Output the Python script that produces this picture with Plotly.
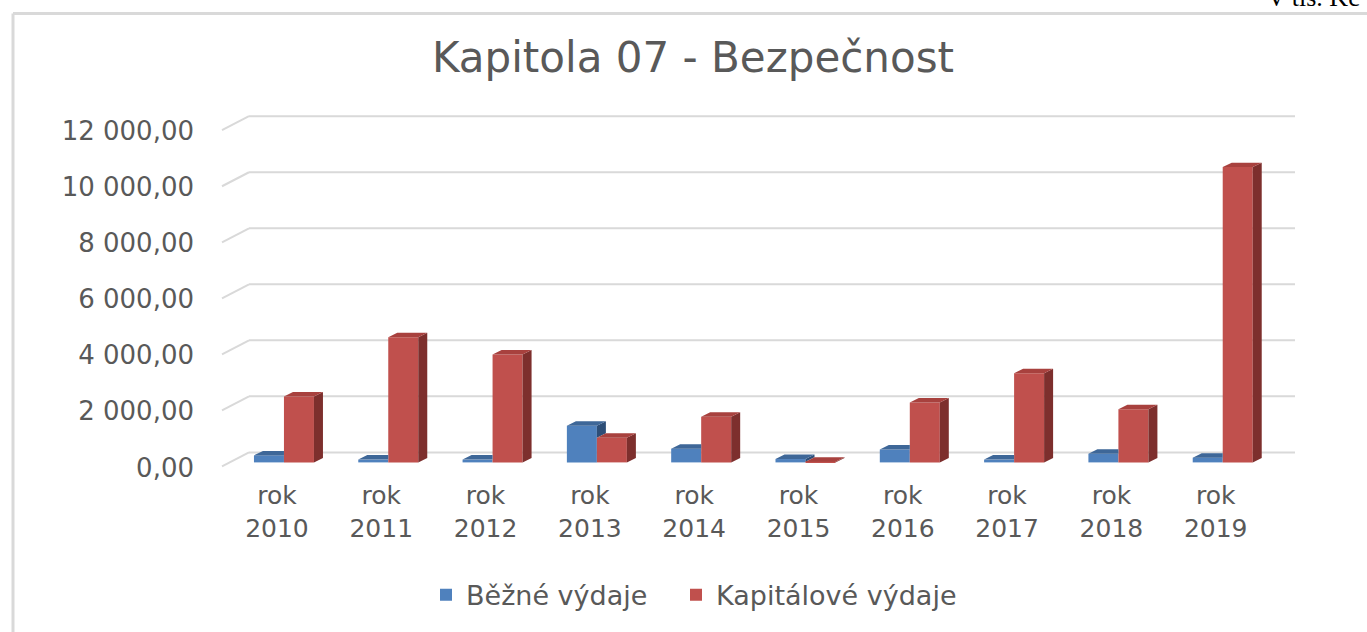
import plotly.graph_objects as go

# ---------------- data ----------------
categories = ["rok<br>2010", "rok<br>2011", "rok<br>2012", "rok<br>2013", "rok<br>2014",
              "rok<br>2015", "rok<br>2016", "rok<br>2017", "rok<br>2018", "rok<br>2019"]
bezne_vydaje = [250, 100, 100, 1310, 490, 120, 460, 100, 310, 170]
kapitalove_vydaje = [2350, 4470, 3850, 880, 1630, 20, 2140, 3180, 1900, 10540]
y_ticks = [0, 2000, 4000, 6000, 8000, 10000, 12000]
series_names = ["Běžné výdaje", "Kapitálové výdaje"]

# ---------------- layout constants ----------------
W, H = 1367, 632
L, R, T, B = 222, 72, 115, 162
PW, PH = W - L - R, H - T - B
X_RANGE = [-0.594, 9.693]
Y_RANGE = [-200, 12400]
px_x = PW / (X_RANGE[1] - X_RANGE[0])
px_y = PH / (Y_RANGE[1] - Y_RANGE[0])

BAR_W = 30 / px_x          # width of one bar in x units
DX = 9 / px_x              # depth offset (x)
DY = 4.5 / px_y            # depth offset (y)

BLUE, BLUE_TOP, BLUE_SIDE = "#4F81BD", "#3E6798", "#2D4E77"
RED, RED_TOP, RED_SIDE = "#C0504D", "#A8413E", "#7D2F2D"
GRID = "#D9D9D9"
TXT = "#595959"
FONT = "DejaVu Sans"


def paper_x(px):
    return (px - L) / PW


def paper_y(py):
    return (H - B - py) / PH


xs = list(range(len(categories)))

fig = go.Figure()

fig.add_trace(go.Bar(x=xs, y=bezne_vydaje, name=series_names[0], marker_color=BLUE,
                     width=BAR_W, offset=-BAR_W, marker_line_width=0, legend="legend"))
fig.add_trace(go.Bar(x=xs, y=kapitalove_vydaje, name=series_names[1], marker_color=RED,
                     width=BAR_W, offset=0, marker_line_width=0, legend="legend2"))


def poly_trace(polys, color):
    px, py = [], []
    for p in polys:
        for (a, b) in p:
            px.append(a)
            py.append(b)
        px.append(None)
        py.append(None)
    return go.Scatter(x=px, y=py, mode="lines", fill="toself", fillcolor=color,
                      line=dict(width=0, color=color), hoverinfo="skip",
                      showlegend=False, connectgaps=False)


blue_tops, blue_sides, red_tops, red_sides = [], [], [], []
for x, vb, vr in zip(xs, bezne_vydaje, kapitalove_vydaje):
    x0, x1 = x - BAR_W, x
    # blue top face (clipped where the red bar stands in front)
    if vr > vb:
        blue_tops.append([(x0, vb), (x0 + DX, vb + DY), (x1, vb + DY), (x1, vb)])
    else:
        blue_tops.append([(x0, vb), (x0 + DX, vb + DY), (x1 + DX, vb + DY), (x1, vb)])
        blue_sides.append([(x1, vr), (x1, vb), (x1 + DX, vb + DY), (x1 + DX, vr + DY)])
    r0, r1 = x, x + BAR_W
    red_tops.append([(r0, vr), (r0 + DX, vr + DY), (r1 + DX, vr + DY), (r1, vr)])
    red_sides.append([(r1, 0), (r1, vr), (r1 + DX, vr + DY), (r1 + DX, DY)])

fig.add_trace(poly_trace(blue_sides, BLUE_SIDE))
fig.add_trace(poly_trace(blue_tops, BLUE_TOP))
fig.add_trace(poly_trace(red_sides, RED_SIDE))
fig.add_trace(poly_trace(red_tops, RED_TOP))

shapes = []
back_left = paper_x(249)
for v in y_ticks:
    # back wall gridline
    shapes.append(dict(type="line", xref="paper", x0=back_left, x1=1,
                       yref="y", ysizemode="pixel", yanchor=v, y0=10, y1=10,
                       line=dict(color=GRID, width=2), layer="below"))
    # side wall slant
    shapes.append(dict(type="line", xref="paper", x0=0, x1=back_left,
                       yref="y", ysizemode="pixel", yanchor=v, y0=-4, y1=10,
                       line=dict(color=GRID, width=2), layer="below"))

# chart frame
shapes.append(dict(type="line", xref="paper", yref="paper",
                   x0=paper_x(13), x1=paper_x(W + 5), y0=paper_y(13), y1=paper_y(13),
                   line=dict(color=GRID, width=3), layer="below"))
shapes.append(dict(type="line", xref="paper", yref="paper",
                   x0=paper_x(13), x1=paper_x(13), y0=paper_y(13), y1=paper_y(H + 5),
                   line=dict(color=GRID, width=3), layer="below"))

legend_style = dict(orientation="h", xanchor="left", y=paper_y(598), yanchor="middle",
                    font=dict(family=FONT, size=27, color=TXT), bgcolor="rgba(0,0,0,0)")

fig.update_layout(
    width=W, height=H,
    margin=dict(l=L, r=R, t=T, b=B),
    paper_bgcolor="white", plot_bgcolor="white",
    separators=", ",
    font=dict(family=FONT, color=TXT, size=24),
    title=dict(text="Kapitola 07 - Bezpečnost", x=693 / W, xref="container", xanchor="center",
               y=1 - 57 / H, yref="container", yanchor="middle",
               font=dict(family=FONT, size=42, color=TXT)),
    barmode="overlay",
    showlegend=True,
    legend=dict(x=paper_x(426), **legend_style),
    legend2=dict(x=paper_x(676), **legend_style),
    shapes=shapes,
    xaxis=dict(range=X_RANGE, tickvals=xs, ticktext=categories, showgrid=False,
               zeroline=False, showline=False, ticks="", ticklabelshift=-7,
               ticklabelstandoff=10, tickfont=dict(size=25), fixedrange=True),
    yaxis=dict(range=Y_RANGE, tickvals=y_ticks, tickformat=",.2f", showgrid=False,
               zeroline=False, showline=False, ticks="", ticklabelshift=5,
               ticklabelstandoff=27, tickfont=dict(size=26), fixedrange=True),
    annotations=[dict(text="V tis. Kč", xref="paper", yref="paper",
                      x=paper_x(1265), y=paper_y(13), xanchor="left", yanchor="bottom",
                      showarrow=False,
                      font=dict(family="Liberation Serif", size=26, color="black"))],
)

fig.write_html("out.html", config={"displayModeBar": False},
               post_script="document.body.style.margin='0';")
